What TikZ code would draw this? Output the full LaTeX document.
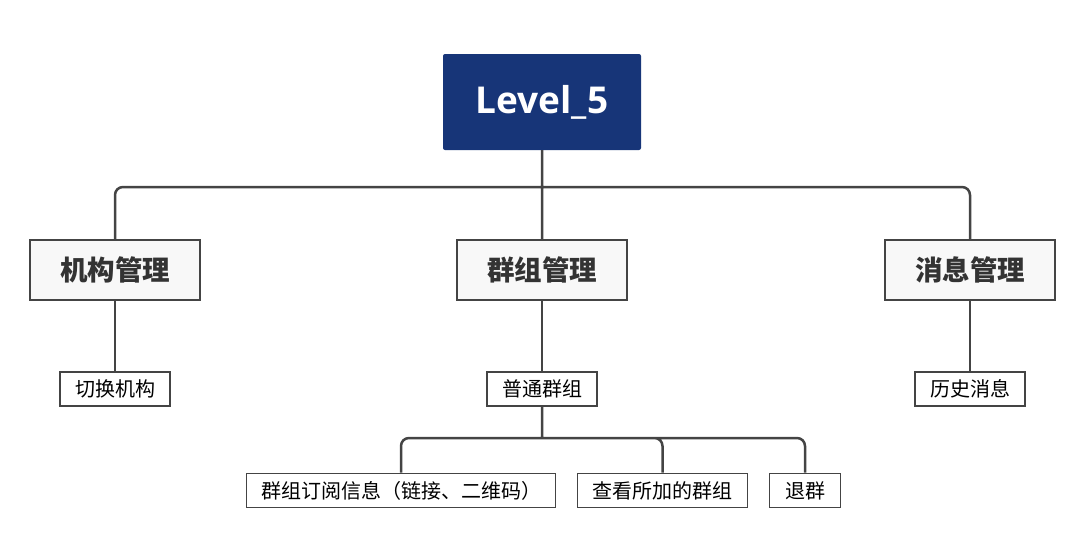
\documentclass[tikz,border=0pt]{standalone}
\usepackage{fontspec}
\setmainfont{Noto Sans CJK SC}
\newfontfamily\latinfont{Open Sans}
\usetikzlibrary{positioning}

\definecolor{rootblue}{RGB}{23,53,120}
\definecolor{linegray}{RGB}{68,68,68}
\definecolor{boxfill}{RGB}{248,248,248}

\tikzset{
	rootbox/.style={fill=rootblue,rounded corners=2pt,minimum width=198pt,minimum height=96pt,inner sep=0pt,text=white,font=\latinfont\bfseries\fontsize{37}{40}\selectfont},
	mainbox/.style={draw=linegray,line width=2.5pt,fill=boxfill,minimum width=170pt,minimum height=60pt,inner sep=0pt,text={rgb,255:red,51;green,51;blue,51},font=\bfseries\fontsize{27.5}{30}\selectfont},
	subbox/.style={draw=linegray,line width=1.8pt,fill=white,minimum height=34pt,inner sep=0pt,font=\fontsize{20}{22}\selectfont},
	link/.style={draw=linegray,line width=2.5pt,rounded corners=8pt}
}

\begin{document}
\begin{tikzpicture}[x=1pt,y=-1pt]
	\useasboundingbox (0,0) rectangle (1082,552);

	\node(root)[rootbox] at (542,102) {Level\_5};

	\node(org)[mainbox] at (115,270) {机构管理};
	\node(grp)[mainbox] at (542,270) {群组管理};
	\node(msg)[mainbox] at (970,270) {消息管理};

	\node(switch)[subbox,minimum width=110pt,below=70pt of org] {切换机构};
	\node(normal)[subbox,minimum width=110pt,below=70pt of grp] {普通群组};
	\node(history)[subbox,minimum width=110pt,below=70pt of msg] {历史消息};

	\node(sub)[subbox,minimum width=309pt] at (401,490.5) {群组订阅信息（链接、二维码）};
	\node(joined)[subbox,minimum width=170pt] at (662.5,490.5) {查看所加的群组};
	\node(quit)[subbox,minimum width=71pt] at (805,490.5) {退群};

	\coordinate (top) at (542,187);
	\coordinate (mid) at (542,438);

	\path[link] (root.south) -- (top)
	            (top) -| (org.north)
	            (top) -- (grp.north)
	            (top) -| (msg.north);
	\path[link] (org.south) -- (switch.north)
	            (grp.south) -- (normal.north)
	            (msg.south) -- (history.north);
	\path[link] (normal.south) -- (mid)
	            (mid) -| (sub.north)
	            (mid) -| (joined.north)
	            (mid) -| (quit.north);
\end{tikzpicture}
\end{document}
